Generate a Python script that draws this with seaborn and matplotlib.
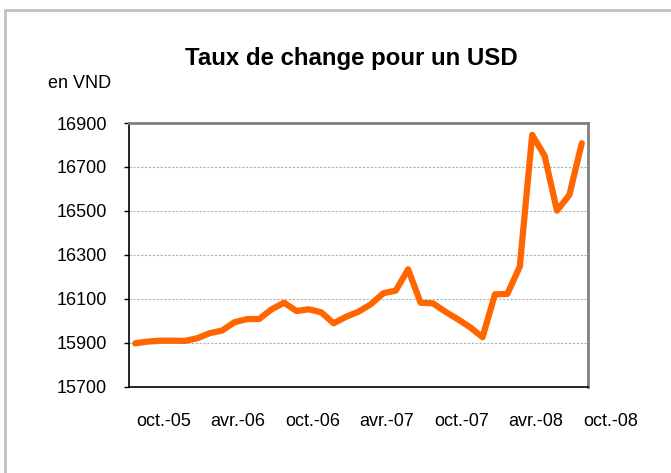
import numpy as np
import pandas as pd
import matplotlib
matplotlib.use('Agg')
import matplotlib.pyplot as plt
import matplotlib.transforms as mtransforms
from matplotlib.lines import Line2D
import seaborn as sns

# Monthly USD/VND rate (aug. 2005 - aug. 2008)
rates = [15897, 15905, 15909, 15909, 15908, 15920, 15943, 15955, 15993, 16007,
         16008, 16052, 16082, 16044, 16052, 16038, 15988, 16018, 16041, 16075,
         16125, 16137, 16234, 16082, 16079, 16041, 16007, 15970, 15925, 16120,
         16122, 16246, 16846, 16751, 16501, 16573, 16808]
date_labels = ['oct.-05', 'avr.-06', 'oct.-06', 'avr.-07', 'oct.-07', 'avr.-08', 'oct.-08']
y_ticks = [15700, 15900, 16100, 16300, 16500, 16700, 16900]

df = pd.DataFrame({'idx': np.arange(len(rates)), 'rate': rates})

sns.set_style('white')
plt.rcParams['font.family'] = ['Liberation Sans', 'DejaVu Sans']
plt.rcParams['text.color'] = 'black'
plt.rcParams['xtick.color'] = 'black'
plt.rcParams['ytick.color'] = 'black'
plt.rcParams['axes.labelcolor'] = 'black'

W, H = 671, 473
fig = plt.figure(figsize=(W / 100, H / 100), dpi=100)
ax = fig.add_axes([129 / W, 1 - 386.6 / H, 459 / W, (386.6 - 123) / H])

sns.lineplot(data=df, x='idx', y='rate', ax=ax, color='#FF6600', linewidth=4.5,
             solid_joinstyle='round', solid_capstyle='round')

ax.set_xlim(-0.5, 36.5)
ax.set_ylim(15700, 16900)
ax.set_yticks(y_ticks)
ax.set_yticklabels([str(v) for v in y_ticks], fontsize=13, color='black')
ax.set_xticks([])
ax.tick_params(axis='y', length=3.6, width=1, color='black', pad=12.2, direction='out', left=True)
ax.set_xlabel('')
ax.set_ylabel('')

# date labels every 6 months, first one two months after the first point
trans = mtransforms.blended_transform_factory(ax.transData, ax.transAxes)
for k, lab in enumerate(date_labels):
    ax.text(2.3 + 6 * k, -0.134, lab, transform=trans, ha='center', va='center',
            fontsize=13, color='black', clip_on=False)

for v in y_ticks[1:-1]:
    ax.axhline(v, color='#B0B0B0', linewidth=0.8, linestyle=(0, (2, 1.5)), zorder=0)

for side in ['top', 'right']:
    ax.spines[side].set_color('#808080')
    ax.spines[side].set_linewidth(2)
for side in ['left', 'bottom']:
    ax.spines[side].set_color('black')
    ax.spines[side].set_linewidth(1.2)

fig.text(351 / W, 1 - 58 / H, 'Taux de change pour un USD', ha='center', va='center',
         fontsize=17.3, fontweight='bold', color='black')
fig.text(48 / W, 1 - 83 / H, 'en VND', ha='left', va='center', fontsize=13, color='black')

# outer chart border (top and left only visible)
fig.add_artist(Line2D([4.5 / W, 1], [1 - 10 / H, 1 - 10 / H], color='#C0C0C0', linewidth=2,
                      transform=fig.transFigure))
fig.add_artist(Line2D([4.5 / W, 4.5 / W], [0, 1 - 10 / H], color='#C0C0C0', linewidth=2,
                      transform=fig.transFigure))

fig.savefig('out.png', dpi=100)
